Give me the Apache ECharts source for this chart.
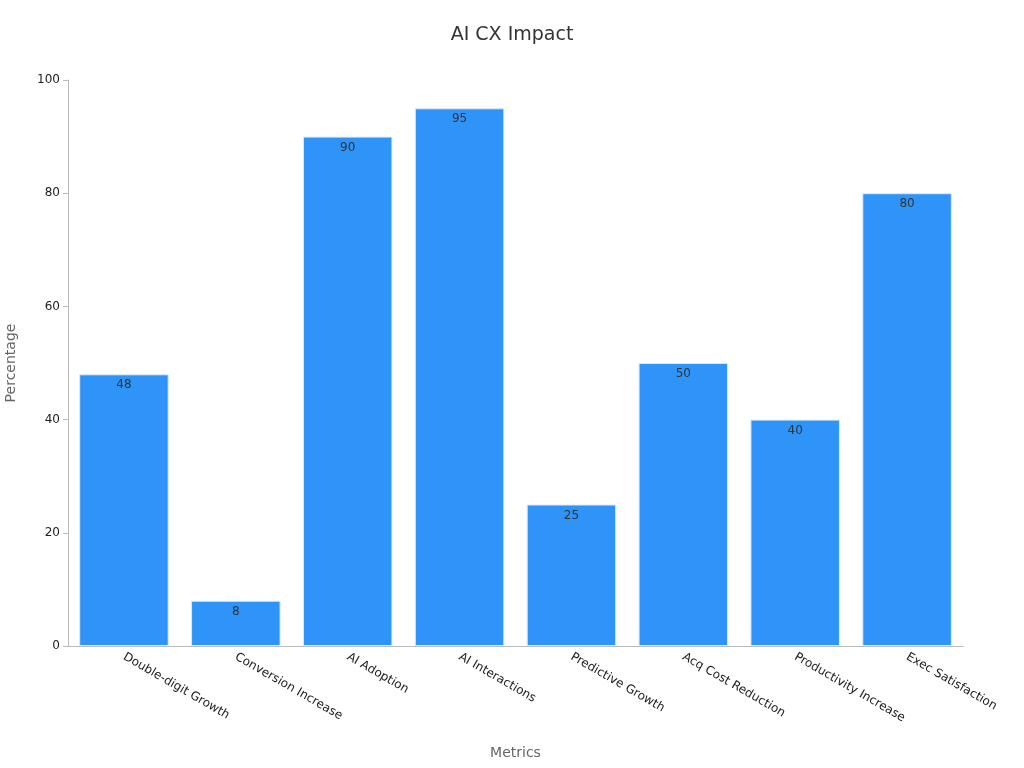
<!DOCTYPE html>
<html lang="en">
<head>
<meta charset="UTF-8">
<script src="https://cdn.jsdelivr.net/npm/echarts@6/dist/echarts.min.js"></script>
<title>AI CX Impact</title>
<style>body{margin:0}</style>
</head>
<body>
<div id="main" style="width:1024px;height:768px;"></div>
<script>
const categories = ['Double-digit Growth', 'Conversion Increase', 'AI Adoption', 'AI Interactions',
  'Predictive Growth', 'Acq Cost Reduction', 'Productivity Increase', 'Exec Satisfaction'];
const values = [48, 8, 90, 95, 25, 50, 40, 80];
const yTicks = { min: 0, max: 100, interval: 20 };

const chart = echarts.init(document.getElementById('main'));
const axisColor = '#bbb';
chart.setOption({
  textStyle: { fontFamily: 'DejaVu Sans' },
  title: { text: 'AI CX Impact', left: 'center', top: 21,
    textStyle: { fontSize: 19, fontWeight: 'normal', color: '#333' } },
  grid: { left: 68, right: 61, top: 80, bottom: 122, containLabel: false, outerBoundsMode: 'none' },
  xAxis: {
    type: 'category', data: categories,
    name: 'Metrics', nameLocation: 'middle', nameGap: 100,
    nameTextStyle: { fontSize: 14, color: '#666' },
    axisLine: { lineStyle: { color: axisColor } },
    axisTick: { alignWithLabel: true, lineStyle: { color: axisColor } },
    axisLabel: { rotate: -30, fontSize: 12, color: '#222', margin: 10 }
  },
  yAxis: {
    type: 'value', min: yTicks.min, max: yTicks.max, interval: yTicks.interval,
    name: 'Percentage', nameLocation: 'middle', nameGap: 50,
    nameTextStyle: { fontSize: 14, color: '#666' },
    axisLine: { show: true, lineStyle: { color: axisColor } },
    axisTick: { show: true, lineStyle: { color: axisColor } },
    axisLabel: { fontSize: 12, color: '#222' },
    splitLine: { show: false }
  },
  series: [{
    type: 'bar', data: values, barCategoryGap: '20%',
    itemStyle: { color: '#2f94f7', borderColor: '#dbe9f7', borderWidth: 1 },
    label: { show: true, position: 'insideTop', color: '#333', fontSize: 12 }
  }]
});
</script>
</body>
</html>
